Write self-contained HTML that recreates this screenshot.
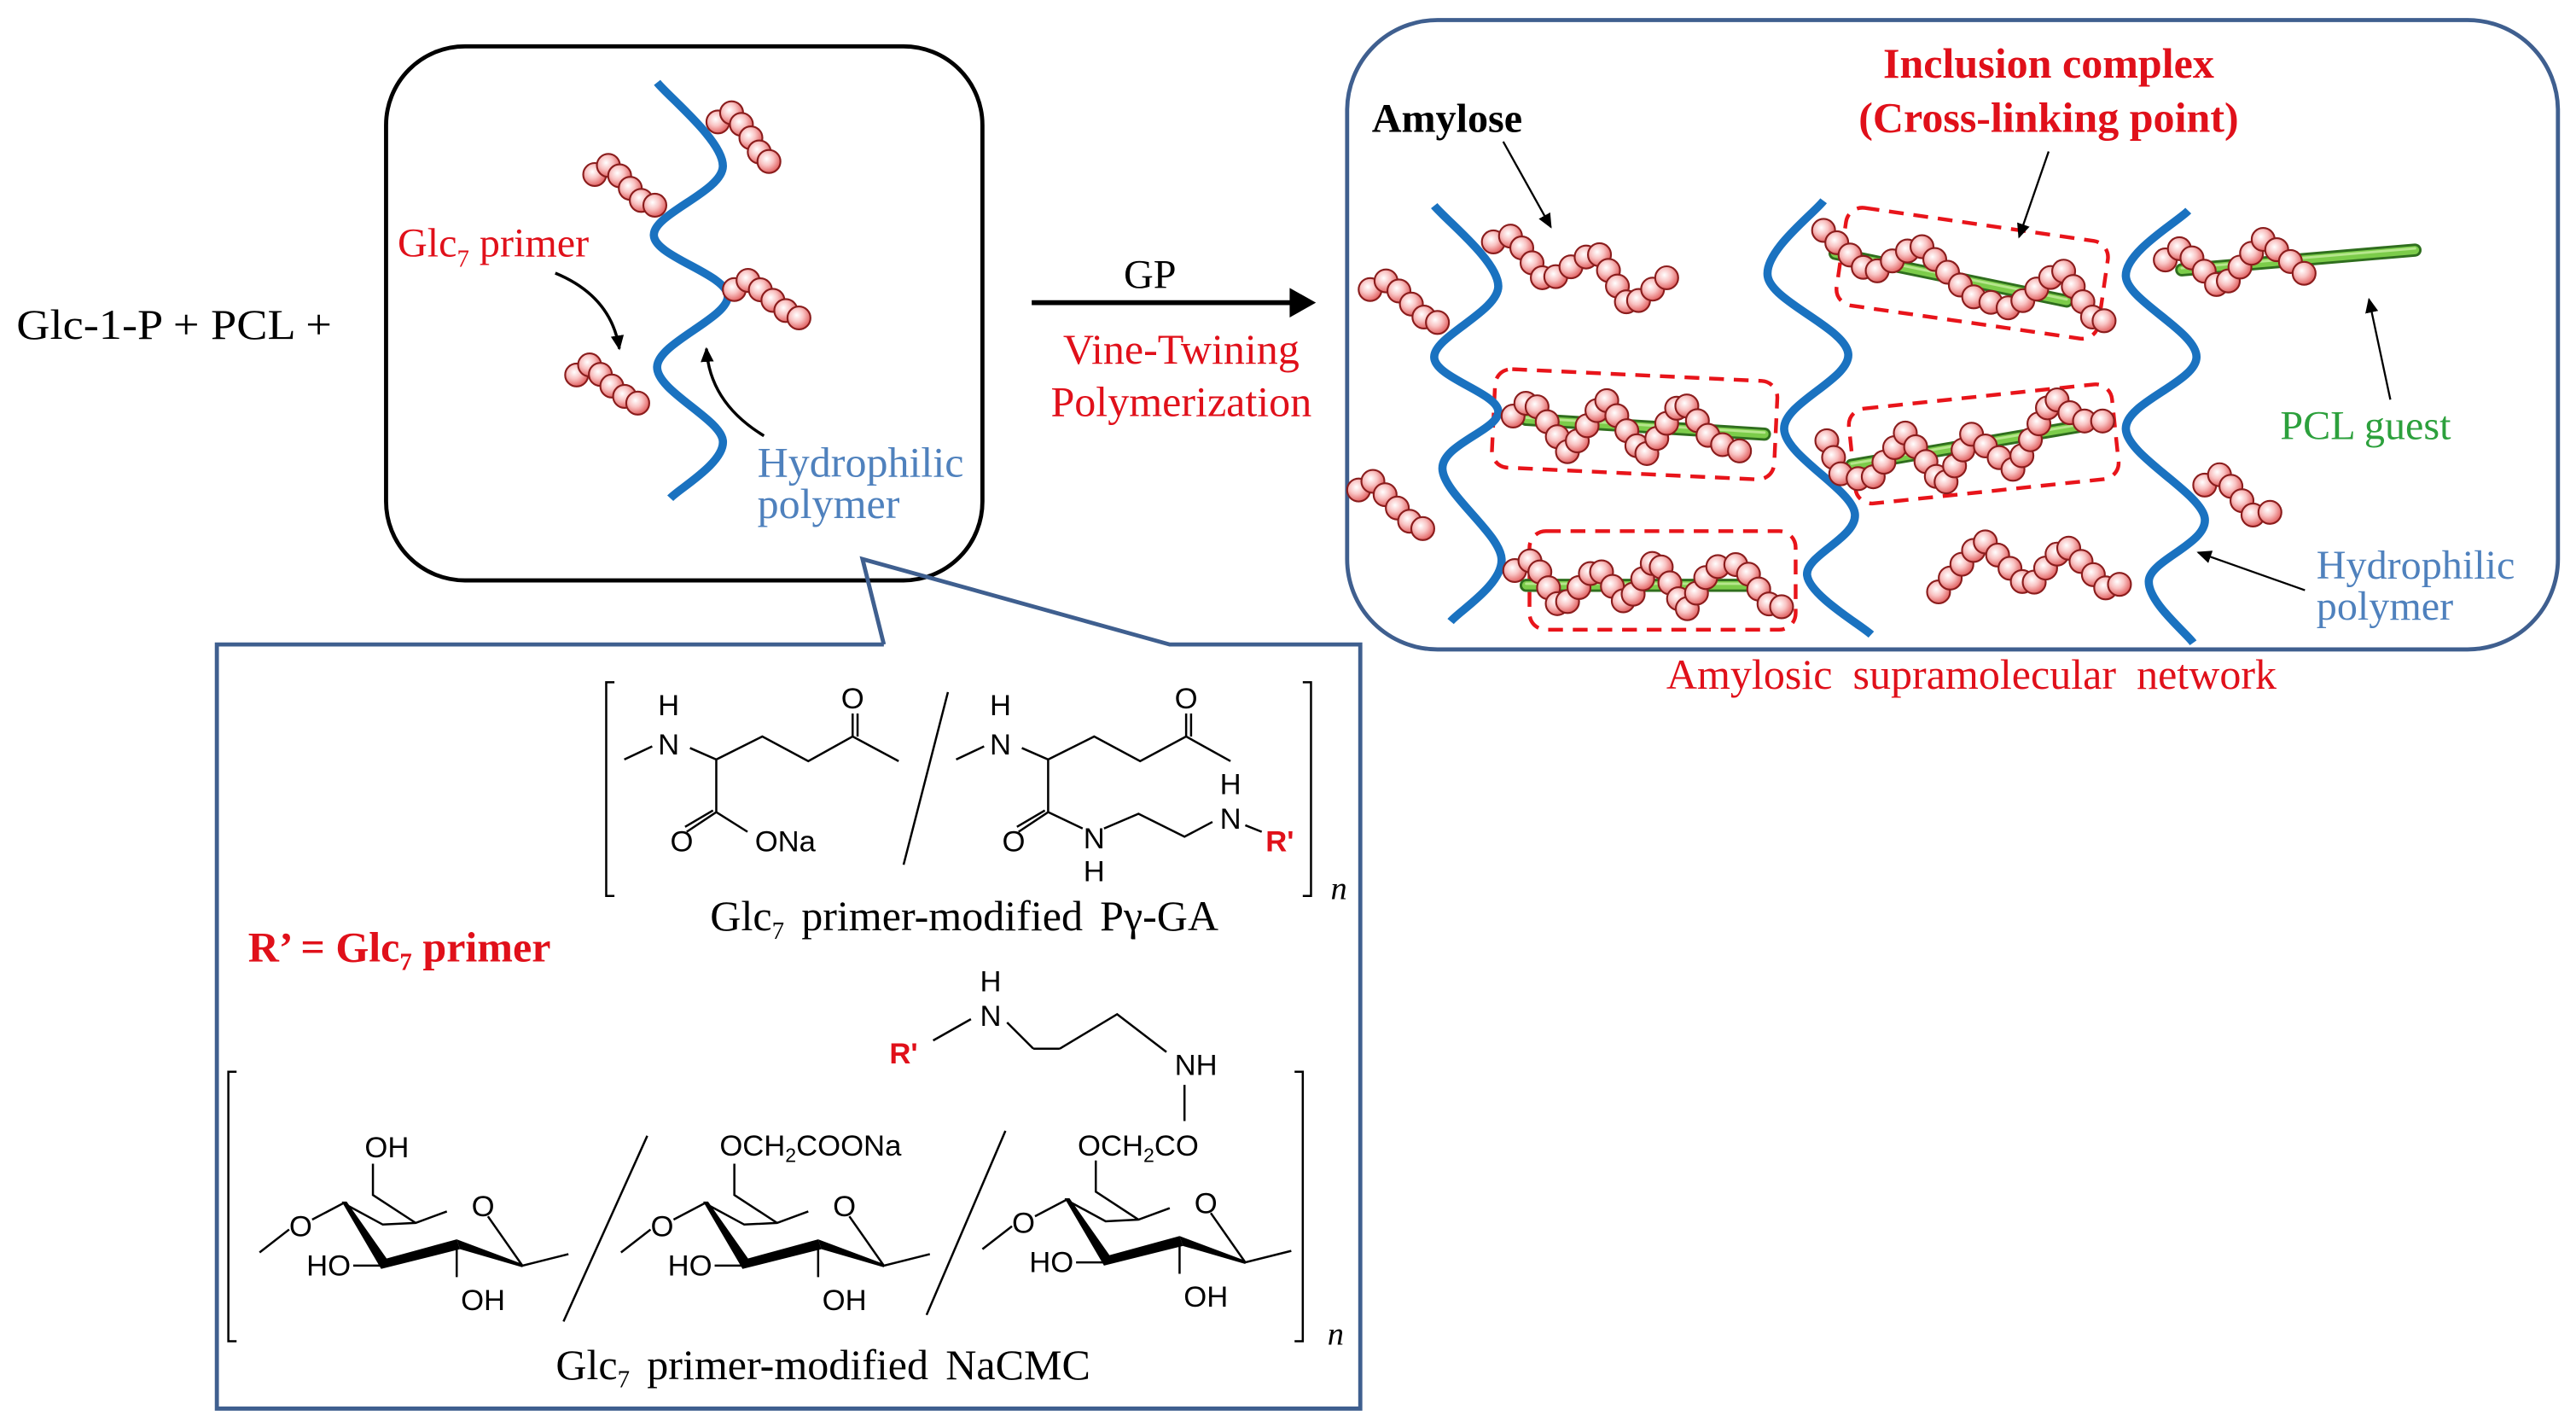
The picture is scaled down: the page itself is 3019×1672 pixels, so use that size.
<!DOCTYPE html>
<html><head><meta charset="utf-8"><style>
html,body{margin:0;padding:0;background:#fff;}
svg{display:block;}
.t{font-family:"Liberation Serif",serif;}
.s{font-family:"Liberation Sans",sans-serif;}
</style></head><body>
<svg id="sv" width="3019" height="1672" viewBox="0 0 1568 868" xmlns="http://www.w3.org/2000/svg">
<defs>
<radialGradient id="bg" cx="0.4" cy="0.38" r="0.65">
<stop offset="0" stop-color="#ffffff"/><stop offset="0.45" stop-color="#f9c4c4"/><stop offset="1" stop-color="#e05a5a"/>
</radialGradient>
<marker id="ah" markerWidth="10" markerHeight="10" refX="8" refY="5" orient="auto" markerUnits="userSpaceOnUse">
<path d="M0,1 L9,5 L0,9 z" fill="#000"/></marker>
</defs>
<rect width="1568" height="868" fill="#fff"/>

<text class="t" x="10" y="206" font-size="26" textLength="192" lengthAdjust="spacingAndGlyphs">Glc-1-P  + PCL +</text>

<rect x="235" y="28" width="363" height="325" rx="48" fill="none" stroke="#000" stroke-width="2.5"/>
<g id="wavesL"></g>
<text class="t" x="242" y="156" font-size="25" fill="#e0101a">Glc<tspan font-size="15" dy="6">7</tspan><tspan dy="-6"> primer</tspan></text>
<path d="M338,166 Q372,180 377,212" fill="none" stroke="#000" stroke-width="1.8" marker-end="url(#ah)"/>
<path d="M465,265 Q432,245 430,212" fill="none" stroke="#000" stroke-width="1.8" marker-end="url(#ah)"/>
<text class="t" x="461" y="290" font-size="26" fill="#4f81bd">Hydrophilic</text>
<text class="t" x="461" y="315" font-size="26" fill="#4f81bd">polymer</text>

<line x1="628" y1="184" x2="788" y2="184" stroke="#000" stroke-width="3"/>
<polygon points="801,184 785,175 785,193" fill="#000"/>
<text class="t" x="700" y="175" font-size="25" text-anchor="middle">GP</text>
<text class="t" x="719" y="221" font-size="26" fill="#e0101a" text-anchor="middle">Vine-Twining</text>
<text class="t" x="719" y="253" font-size="26" fill="#e0101a" text-anchor="middle">Polymerization</text>

<rect x="820" y="12" width="737" height="383" rx="55" fill="none" stroke="#3f5f8f" stroke-width="2.5"/>
<g id="dashes" fill="none" stroke="#e8141a" stroke-width="2.3" stroke-dasharray="9 6">
<rect x="-80" y="-30" width="161" height="60" rx="10" transform="translate(1200,166) rotate(8.2)"/>
<rect x="-86" y="-30" width="172" height="60" rx="10" transform="translate(995,258) rotate(2.7)"/>
<rect x="-80" y="-29" width="161" height="58" rx="10" transform="translate(1207,270) rotate(-6)"/>
<rect x="-81" y="-30" width="162" height="60" rx="10" transform="translate(1012,353)"/>
</g>
<g id="wavesR"></g>
<g id="rods"></g>
<g id="beads"></g>
<text class="t" x="835" y="80" font-size="25" font-weight="bold">Amylose</text>
<line x1="915" y1="86" x2="944" y2="138" stroke="#000" stroke-width="1.2" marker-end="url(#ah)"/>
<text class="t" x="1247" y="47" font-size="26" font-weight="bold" fill="#e0101a" text-anchor="middle">Inclusion complex</text>
<text class="t" x="1247" y="80" font-size="26" font-weight="bold" fill="#e0101a" text-anchor="middle">(Cross-linking point)</text>
<line x1="1247" y1="92" x2="1229" y2="144" stroke="#000" stroke-width="1.2" marker-end="url(#ah)"/>
<text class="t" x="1388" y="267" font-size="25" fill="#2ca03c">PCL guest</text>
<line x1="1455" y1="243" x2="1442" y2="182" stroke="#000" stroke-width="1.2" marker-end="url(#ah)"/>
<text class="t" x="1410" y="352" font-size="25" fill="#4f81bd">Hydrophilic</text>
<text class="t" x="1410" y="377" font-size="25" fill="#4f81bd">polymer</text>
<line x1="1403" y1="359" x2="1338" y2="336" stroke="#000" stroke-width="1.2" marker-end="url(#ah)"/>
<text class="t" x="1200" y="419" font-size="26" fill="#e0101a" text-anchor="middle" word-spacing="6">Amylosic supramolecular network</text>

<polyline points="538,392 132,392 132,857 828,857 828,392 712,392 525,340 538,392" fill="none" stroke="#3f5f8f" stroke-width="2.5"/>

<g fill="none" stroke="#000" stroke-width="1.3">
<path d="M374,415 H369 V545 H374 M793,415 H798 V545 H793"/>
<path d="M380,462 L397,454 M420,455 L436,462 L464,448 L492,463 L519,448 L547,463 M519,448 V434 M522,448 V434 M436,462 V494 L418,506 M434,493 L417,503 M436,494 L455,506"/>
<line x1="577" y1="421" x2="550" y2="526"/>
<path d="M582,462 L599,454 M622,455 L638,462 L666,448 L694,463 L722,448 L749,463 M722,448 V434 M725,448 V434 M638,462 V494 L620,506 M636,493 L619,503 M638,494 L659,504 M672,504 L693,495 L721,509 L738,500 M758,502 L768,506"/>
<path d="M144,652 H139 V816 H144 M788,652 H793 V816 H788"/>
<line x1="394" y1="691" x2="343" y2="804"/>
<line x1="612" y1="688" x2="564" y2="800"/>
<path d="M591,620 L568,633 M613,622 L629,638 M629,638 L645,638 M645,638 L680,617 L710,640 M721,682 V660"/>
</g>
<g class="s" font-size="18" text-anchor="middle">
<text x="407" y="435">H</text><text x="407" y="459">N</text>
<text x="519" y="431">O</text>
<text x="415" y="518">O</text><text x="478" y="518">ONa</text>
<text x="609" y="435">H</text><text x="609" y="459">N</text>
<text x="722" y="431">O</text>
<text x="617" y="518">O</text><text x="666" y="516">N</text><text x="666" y="536">H</text>
<text x="749" y="483">H</text><text x="749" y="504">N</text>
<text x="779" y="518" fill="#e0101a" font-weight="bold">R'</text>
<text x="603" y="603">H</text><text x="603" y="624">N</text>
<text x="550" y="647" fill="#e0101a" font-weight="bold">R'</text>
<text x="728" y="654">NH</text>
</g>
<text x="810" y="547" class="t" font-size="20" font-style="italic">n</text>
<text x="808" y="818" class="t" font-size="20" font-style="italic">n</text>
<text class="t" x="587" y="566" font-size="26" text-anchor="middle" word-spacing="4">Glc<tspan font-size="15" dy="5">7</tspan><tspan dy="-5"> primer-modified  Pγ-GA</tspan></text>
<text class="t" x="151" y="585" font-size="26" font-weight="bold" fill="#e0101a">R’ = Glc<tspan font-size="15" dy="5">7</tspan><tspan dy="-5"> primer</tspan></text>
<text class="t" x="501" y="839" font-size="26" text-anchor="middle" word-spacing="4">Glc<tspan font-size="15" dy="5">7</tspan><tspan dy="-5"> primer-modified  NaCMC</tspan></text>
<g id="rings"></g>
</svg>
<script>
var NS="http://www.w3.org/2000/svg";
function el(t,a,p){var e=document.createElementNS(NS,t);for(var k in a)e.setAttribute(k,a[k]);p.appendChild(e);return e;}
function smooth(pts){var d="M"+pts[0][0]+","+pts[0][1];for(var i=0;i<pts.length-1;i++){var p0=pts[Math.max(i-1,0)],p1=pts[i],p2=pts[i+1],p3=pts[Math.min(i+2,pts.length-1)];
var c1=[p1[0]+(p2[0]-p0[0])/6,p1[1]+(p2[1]-p0[1])/6],c2=[p2[0]-(p3[0]-p1[0])/6,p2[1]-(p3[1]-p1[1])/6];d+=" C"+c1+" "+c2+" "+p2;}return d;}
var blue={fill:"none",stroke:"#1a72c0","stroke-width":5,"stroke-linecap":"butt"};
function wave(g,pts){var a=Object.assign({d:smooth(pts)},blue);el("path",a,g);}
wave(document.getElementById("wavesL"),[[400,50],[440,101],[398,143],[443,180],[400,223],[440,268],[408,303]]);
var wr=document.getElementById("wavesR");
wave(wr,[[873,125],[912,174],[873,217],[912,250],[878,285],[914,340],[883,378]]);
wave(wr,[[1110,122],[1076,168],[1125,215],[1086,261],[1129,312],[1100,350],[1139,386]]);
wave(wr,[[1332,128],[1294,168],[1337,217],[1294,261],[1342,315],[1308,353],[1335,391]]);
var rods=document.getElementById("rods");
[[1117,154,1258,183],[929,255,1074,264],[1127,283,1267,259],[929,356,1071,356],[1328,164,1470,152]].forEach(function(r){
el("line",{x1:r[0],y1:r[1],x2:r[2],y2:r[3],stroke:"#2f6e1e","stroke-width":8,"stroke-linecap":"round"},rods);
el("line",{x1:r[0],y1:r[1],x2:r[2],y2:r[3],stroke:"#7ccc4a","stroke-width":5,"stroke-linecap":"round"},rods);
el("line",{x1:r[0],y1:r[1]-1,x2:r[2],y2:r[3]-1,stroke:"#b6e68c","stroke-width":1.5,"stroke-linecap":"round"},rods);});
var bg=document.getElementById("beads");
function bead(x,y){el("circle",{cx:x,cy:y,r:7,fill:"url(#bg)",stroke:"#8a1c1c","stroke-width":1.1},bg);}
function chain(pts,sp){sp=sp||11;var acc=0;bead(pts[0][0],pts[0][1]);for(var i=0;i<pts.length-1;i++){var dx=pts[i+1][0]-pts[i][0],dy=pts[i+1][1]-pts[i][1],L=Math.hypot(dx,dy);var t=sp-acc;while(t<=L){bead(pts[i][0]+dx*t/L,pts[i][1]+dy*t/L);t+=sp;}acc=L-(t-sp);}}
chain([[437,74],[446,68],[458,85],[466,99],[477,94]],10);
chain([[362,106],[371,100],[381,111],[388,120],[396,126],[406,121]],10);
chain([[447,176],[456,170],[466,179],[476,187],[485,194],[494,189]],10);
chain([[351,228],[360,221],[369,232],[379,240],[386,246],[396,242]],10);
chain([[909,147],[921,143],[941,172],[972,152],[992,187],[1023,162]]);
chain([[834,176],[845,170],[864,190],[872,198],[878,194]]);
chain([[827,298],[835,292],[857,316],[864,323],[872,317]]);
chain([[1110,140],[1139,167],[1168,148],[1200,180],[1225,188],[1255,163],[1277,198],[1287,190]]);
chain([[921,253],[932,242],[955,276],[977,242],[1001,278],[1024,243],[1042,268],[1061,275]]);
chain([[1112,268],[1120,288],[1138,293],[1160,263],[1183,296],[1200,264],[1226,286],[1250,241],[1265,256],[1287,256]]);
chain([[922,347],[933,340],[950,371],[972,344],[990,368],[1008,339],[1026,372],[1042,345],[1060,343],[1080,372],[1092,364]]);
chain([[1318,158],[1328,150],[1352,176],[1378,145],[1407,170]]);
chain([[1342,295],[1352,288],[1372,314],[1388,310]]);
chain([[1180,360],[1207,328],[1235,358],[1257,331],[1284,360],[1296,351]]);
var rg=document.getElementById("rings");
function ring(dx,dy){var g=el("g",{transform:"translate("+dx+","+dy+")"},rg);
var ln={fill:"none",stroke:"#000","stroke-width":1.3};
el("path",Object.assign({d:"M158,762 L176,748 M190,742 L209,732 L233,745 L253,744 L272,737 M297,740 L318,770 L346,763 M253,744 L227,727 L227,708 M278,758 L278,777"},ln),g);
el("polygon",{points:"208,731 211,731 237,768 232,772",fill:"#000"},g);
el("polygon",{points:"232,772 234,766 278,754 280,760",fill:"#000"},g);
el("polygon",{points:"278,754 280,760 318,771 318,769",fill:"#000"},g);
el("line",{x1:215,y1:770,x2:232,y2:770,stroke:"#000","stroke-width":1.3},g);
[["O",183,752],["O",294,740],["HO",200,776],["OH",294,797]].forEach(function(t){var e=el("text",{x:t[1],y:t[2],"font-size":18,"text-anchor":"middle","font-family":"Liberation Sans, sans-serif"},g);e.textContent=t[0];});
}
ring(0,0);ring(220,0);ring(440,-2);
function tx(x,y){return el("text",{x:x,y:y,"font-size":18,"font-family":"Liberation Sans, sans-serif"},rg);}
tx(222,704).textContent="OH";
tx(438,703).innerHTML='OCH<tspan font-size="12" dy="4">2</tspan><tspan dy="-4">COONa</tspan>';
tx(656,703).innerHTML='OCH<tspan font-size="12" dy="4">2</tspan><tspan dy="-4">CO</tspan>';
</script>
</body></html>
